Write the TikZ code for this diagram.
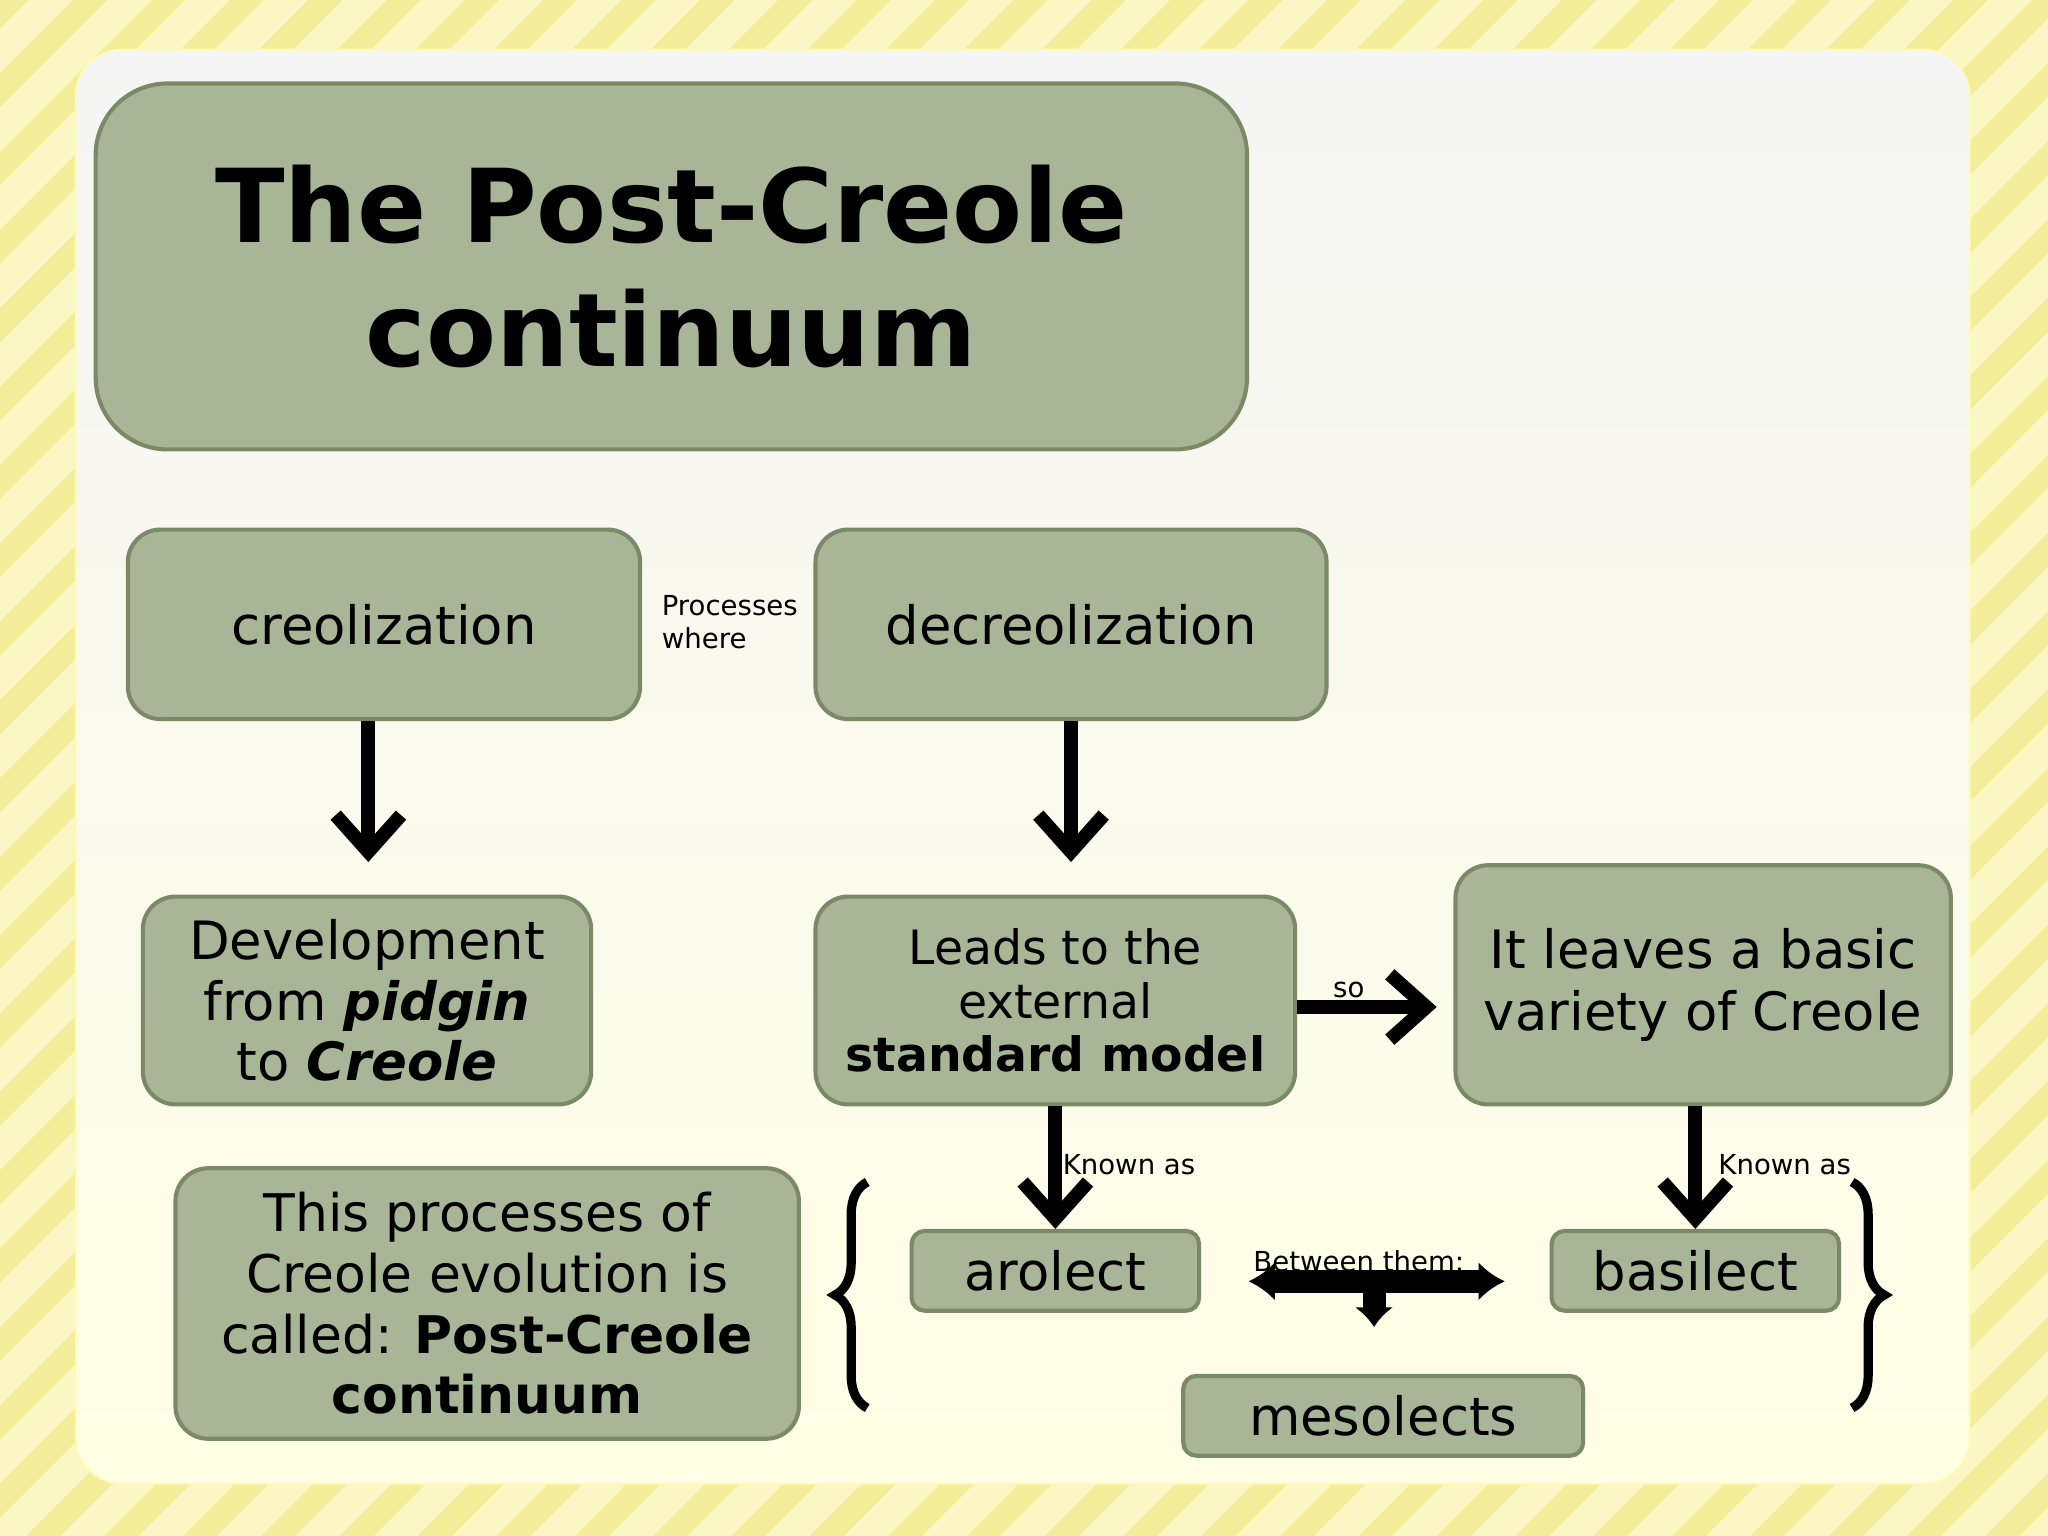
\documentclass[tikz,border=0pt]{standalone}
\usepackage{fontspec}
\setmainfont{DejaVu Sans}
\usetikzlibrary{arrows.meta,decorations.pathreplacing,calc}
\definecolor{boxf}{HTML}{A8B596}
\definecolor{boxd}{HTML}{7A8A66}
\definecolor{stripeA}{HTML}{FBF7C4}
\definecolor{stripeB}{HTML}{F4EE9A}
\begin{document}
\begin{tikzpicture}[x=0.01cm,y=-0.01cm,
 box/.style={draw=boxd,fill=boxf,line width=0.9pt,rounded corners=0.25cm,align=center,text=black},
 arr/.style={line width=3pt,-{Straight Barb[length=0.28cm,width=0.5cm,line width=3pt]}},
 lab/.style={font=\fontsize{6}{7.2}\selectfont,align=left,anchor=west,inner sep=0}]
\useasboundingbox (0,0) rectangle (1568,1176);
\fill[stripeA] (0,0) rectangle (1568,1176);
\begin{scope}
\clip (0,0) rectangle (1568,1176);
\foreach \i in {-1300,-1240,...,1600}{
 \fill[stripeB] (\i,1176) -- (\i+26,1176) -- (\i+26+1176,0) -- (\i+1176,0) -- cycle;}
\end{scope}
\shade[top color={black!4!white},bottom color={yellow!10!white},rounded corners=0.35cm,draw=yellow!30!white] (58,38) rectangle (1508,1136);
% title
\node[box,rounded corners=0.55cm,minimum width=8.81cm,minimum height=2.8cm,font=\fontsize{22.2}{27}\selectfont\bfseries] (title) at (514,204) {The Post-Creole\\continuum};
\node[box,minimum width=3.92cm,minimum height=1.45cm,font=\fontsize{11.5}{14}\selectfont] (cre) at (294,478) {creolization};
\node[box,minimum width=3.91cm,minimum height=1.45cm,font=\fontsize{11.5}{14}\selectfont] (dec) at (820,478) {decreolization};
\node[lab] (pw) at (506,476) {Processes\\where};
\node[box,minimum width=3.43cm,minimum height=1.59cm,font=\fontsize{11.5}{13.2}\selectfont,inner sep=1pt] (dev) at (281,766) {Development\\from \textbf{\itshape pidgin}\\to \textbf{\itshape Creole}};
\node[box,minimum width=3.67cm,minimum height=1.59cm,font=\fontsize{10.3}{11.7}\selectfont,inner sep=1pt] (lead) at (808,766) {Leads to the\\external\\\textbf{standard model}};
\node[box,minimum width=3.79cm,minimum height=1.83cm,font=\fontsize{11.5}{13.5}\selectfont,inner sep=1pt] (leave) at (1304,754) {It leaves a basic\\variety of Creole};
\node[box,minimum width=4.77cm,minimum height=2.07cm,font=\fontsize{11.3}{13.2}\selectfont,inner sep=1pt] (post) at (373,998) {This processes of\\Creole evolution is\\called: \textbf{Post-Creole}\\\textbf{continuum}};
\node[box,rounded corners=0.1cm,minimum width=2.2cm,minimum height=0.61cm,font=\fontsize{11.5}{14}\selectfont] (aro) at (808,973) {arolect};
\node[box,rounded corners=0.1cm,minimum width=2.2cm,minimum height=0.61cm,font=\fontsize{11.5}{14}\selectfont] (bas) at (1298,973) {basilect};
\node[box,rounded corners=0.1cm,minimum width=3.06cm,minimum height=0.61cm,font=\fontsize{11.5}{14}\selectfont] (meso) at (1059,1084) {mesolects};
% arrows
\coordinate (c1) at (282,660); \coordinate (c2) at (820,660); \coordinate (c3) at (1100,771);
\draw[arr] (cre.south -| c1) -- (c1);
\draw[arr] (dec.south -| c2) -- (c2);
\draw[arr] (lead.east |- c3) -- (c3);
\node[lab] at (1020,758) {so};
\draw[arr] (lead.south) -- (aro.north);
\draw[arr] (leave.south -| bas) -- (bas.north);
\node[lab] at (813,892) {Known as};
\node[lab] at (1315,892) {Known as};
% braces
\draw[line width=2pt,decorate,decoration={brace,amplitude=7pt}] (664,1078) -- (664,905);
\draw[line width=2pt,decorate,decoration={brace,amplitude=7pt}] (1418,905) -- (1418,1078);
% between them arrow
\coordinate (bl) at (956,981); \coordinate (br) at (1152,981); \coordinate (bd) at (1052,1016);
\draw[line width=5pt,{Latex[length=0.2cm,width=0.3cm]}-{Latex[length=0.2cm,width=0.3cm]}] (bl) -- (br);
\draw[line width=5pt,-{Latex[length=0.15cm,width=0.3cm]}] (1052,981) -- (bd);
\node[lab] at (959,966) {Between them:};
\end{tikzpicture}
\end{document}
